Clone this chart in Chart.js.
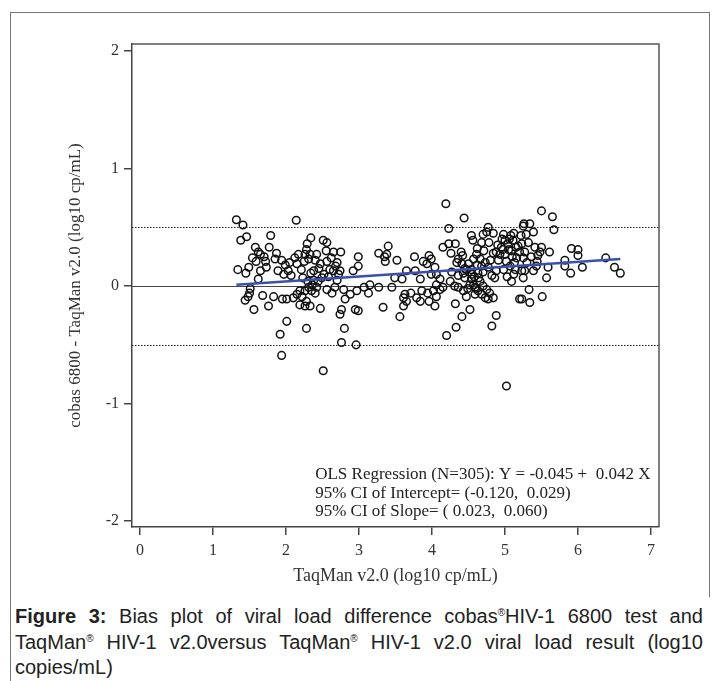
<!DOCTYPE html>
<html>
<head>
<meta charset="utf-8">
<script src="https://cdn.jsdelivr.net/npm/chart.js@4.4.1/dist/chart.umd.min.js"></script>
<style>
  html, body { margin: 0; padding: 0; background: #fff; }
  body { width: 718px; height: 681px; position: relative; overflow: hidden; }
  #frame { position: absolute; left: 10px; top: 12px; width: 698px; height: 584px;
           border: 1.5px solid #777; border-bottom: none; }
  #leftline { position: absolute; left: 10px; top: 590px; height: 100px; border-left: 1.5px solid #777; }
  #chart { position: absolute; left: 0; top: 0; }
  #caption { position: absolute; left: 15px; top: 604px; width: 688px;
             font-family: "Liberation Sans Narrow", "Arial Narrow", "Liberation Sans", Arial, sans-serif;
             font-size: 20px; line-height: 25.5px; color: #222; }
  #caption div { text-align: justify; text-align-last: justify; white-space: nowrap; }
  #caption div.last { text-align-last: left; }
  #caption sup { font-size: 10px; vertical-align: 7px; line-height: 0; }
</style>
</head>
<body>
<div id="frame"></div>
<div id="leftline"></div>
<canvas id="chart" width="718" height="598"></canvas>
<div id="caption">
  <div><b>Figure 3:</b> Bias plot of viral load difference cobas<sup>®</sup>HIV-1 6800 test and</div>
  <div>TaqMan<sup>®</sup> HIV-1 v2.0versus TaqMan<sup>®</sup> HIV-1 v2.0 viral load result (log10</div>
  <div class="last">copies/mL)</div>
</div>
<script>
// ── datos ──
// TaqMan v2.0 (log10 cp/mL)
const taqman = [
  1.32, 1.41, 2.14, 1.79, 1.38, 1.46, 1.58, 1.62, 1.77, 1.54, 1.65, 1.72, 1.59, 1.34, 1.49, 1.45,
  1.65, 1.73, 1.87, 1.85, 1.94, 1.89, 1.99, 2.03, 2.07, 1.97, 2.17, 2.26, 2.33, 2.15, 2.25, 2.31,
  2.34, 2.29, 2.47, 2.34, 2.38, 2.51, 1.62, 1.51, 1.50, 1.48, 1.44, 1.68, 1.83, 1.95, 2.01, 2.10,
  2.15, 2.19, 2.22, 2.26, 2.31, 2.35, 2.40, 2.28, 2.19, 2.26, 2.33, 1.76, 1.56, 2.47, 2.01, 2.28,
  1.92, 1.94, 2.51, 2.23, 2.30, 2.38, 2.44, 2.36, 2.49, 2.42,
  2.56, 2.55, 2.65, 2.75, 2.56, 2.70, 2.60, 2.65, 2.74, 2.72, 2.99, 2.99, 2.92, 3.27, 3.35, 3.40,
  3.52, 3.36, 3.76, 3.88, 3.65, 3.77, 3.84, 3.49, 3.59, 2.56, 2.67, 2.79, 2.88, 2.81, 2.97, 3.07,
  3.15, 3.13, 3.27, 3.45, 2.76, 2.74, 2.95, 2.99, 3.33, 3.63, 3.61, 3.65, 3.61, 3.56, 3.71, 3.79,
  3.84, 2.80, 2.76, 2.96, 3.86, 2.62, 2.68, 2.58, 2.70, 2.63, 3.38,
  4.19, 4.44, 4.23, 4.77, 5.25, 4.15, 4.23, 4.32, 4.26, 4.54, 4.56, 4.70, 4.75, 4.84, 4.68, 4.78,
  4.98, 5.08, 5.00, 5.04, 5.11, 5.18, 4.95, 4.88, 4.84, 4.93, 5.09, 5.20, 5.16, 5.02, 5.07, 5.14,
  5.23, 4.98, 5.09, 5.20, 3.96, 3.99, 3.93, 4.04, 4.06, 3.99, 4.40, 4.42, 4.36, 4.34, 4.41, 4.50,
  4.61, 4.57, 4.66, 4.73, 4.68, 4.77, 4.54, 4.47, 4.43, 4.63, 4.82, 4.86, 4.36, 4.45, 4.54, 4.66,
  4.52, 4.57, 4.59, 4.70, 4.75, 4.79, 4.73, 4.77, 4.84, 4.63, 4.59, 4.43, 4.47, 4.36, 4.31, 4.25,
  4.15, 4.06, 4.11, 4.02, 3.94, 4.06, 3.96, 4.04, 4.32, 4.52, 4.41, 4.88, 4.82, 4.33, 4.20, 5.02,
  4.90, 4.96, 5.05, 5.13, 4.62, 4.80, 4.45, 5.00, 4.91, 5.10, 4.71, 4.58, 4.49, 4.68, 5.12, 4.27,
  4.11, 4.88, 5.03, 4.62,
  5.50, 5.65, 5.26, 5.34, 5.39, 5.67, 5.23, 5.32, 5.41, 5.50, 5.48, 5.61, 5.27, 5.91, 6.00, 6.00,
  5.82, 6.38, 5.82, 6.06, 5.90, 6.50, 6.58, 5.59, 5.43, 5.39, 5.27, 5.25, 5.57, 5.33, 5.51, 5.23,
  5.34, 5.45, 5.25, 5.30, 5.36, 5.44, 5.29, 5.22,
  1.70, 2.05, 2.12, 2.21, 2.40, 2.42, 2.45, 2.52, 2.28, 4.55, 4.64, 4.70, 4.60, 5.06, 5.15, 4.97, 5.12
];
// cobas 6800 - TaqMan v2.0 (log10 cp/mL)
const diff = [
  0.565, 0.52, 0.56, 0.43, 0.39, 0.42, 0.33, 0.29, 0.33, 0.24, 0.27, 0.21, 0.21, 0.14, 0.16, 0.11,
  0.13, 0.16, 0.28, 0.23, 0.22, 0.13, 0.18, 0.13, 0.09, 0.10, 0.27, 0.27, 0.27, 0.19, 0.21, 0.23,
  0.41, 0.36, 0.19, 0.11, 0.13, 0.39, 0.06, -0.02, -0.06, -0.09, -0.12, -0.08, -0.09, -0.11, -0.11, -0.10,
  -0.07, -0.04, -0.09, -0.04, -0.01, -0.04, -0.06, -0.13, -0.16, -0.17, -0.17, -0.17, -0.20, -0.19, -0.30, -0.36,
  -0.41, -0.59, -0.72, 0.07, 0.04, 0.05, 0.04, 0.01, 0.07, -0.01,
  0.37, 0.30, 0.29, 0.29, 0.21, 0.20, 0.14, 0.13, 0.13, 0.10, 0.25, 0.17, 0.13, 0.28, 0.25, 0.34,
  0.22, 0.21, 0.25, 0.21, 0.13, 0.13, 0.06, 0.07, 0.06, -0.03, -0.01, -0.03, -0.07, -0.11, -0.04, -0.01,
  0.01, -0.06, -0.01, -0.01, -0.20, -0.24, -0.20, -0.21, -0.18, -0.07, -0.10, -0.13, -0.17, -0.26, -0.06, -0.10,
  -0.13, -0.36, -0.48, -0.50, -0.04, 0.24, 0.17, 0.08, 0.05, -0.06, 0.27,
  0.70, 0.58, 0.49, 0.50, 0.51, 0.33, 0.36, 0.36, 0.28, 0.43, 0.39, 0.44, 0.46, 0.45, 0.37, 0.37,
  0.44, 0.43, 0.39, 0.36, 0.39, 0.34, 0.33, 0.29, 0.28, 0.27, 0.30, 0.29, 0.24, 0.21, 0.17, 0.14,
  0.13, 0.14, 0.04, -0.11, 0.26, 0.23, 0.19, 0.16, 0.10, 0.10, 0.29, 0.26, 0.23, 0.20, 0.19, 0.19,
  0.27, 0.23, 0.23, 0.20, 0.17, 0.16, 0.14, 0.14, 0.11, 0.11, 0.09, 0.07, 0.09, 0.07, 0.06, 0.04,
  0.01, 0.01, -0.01, 0.00, -0.03, -0.06, -0.10, -0.11, -0.10, -0.04, -0.07, -0.04, -0.09, -0.01, 0.00, 0.04,
  -0.01, 0.01, -0.03, -0.04, -0.06, -0.09, -0.13, -0.17, -0.15, -0.20, -0.26, -0.25, -0.34, -0.35, -0.42, -0.85,
  0.35, 0.40, 0.31, 0.20, 0.18, 0.22, 0.15, 0.27, 0.22, 0.25, 0.30, 0.08, -0.02, -0.07, 0.10, 0.12,
  0.06, 0.13, 0.08, 0.32,
  0.64, 0.59, 0.53, 0.53, 0.46, 0.48, 0.36, 0.37, 0.33, 0.33, 0.29, 0.29, 0.29, 0.32, 0.31, 0.26,
  0.22, 0.24, 0.17, 0.16, 0.11, 0.16, 0.11, 0.16, 0.17, 0.13, 0.13, 0.07, 0.07, -0.03, -0.09, -0.11,
  -0.14, 0.26, 0.24, 0.20, 0.25, 0.21, 0.44, 0.43,
  0.25, 0.20, 0.24, 0.14, 0.22, 0.27, 0.15, 0.10, 0.31, 0.10, 0.07, 0.12, -0.02, 0.40, 0.33, 0.31, 0.45
];

// ejes
const xTicks = [0, 1, 2, 3, 4, 5, 6, 7];
const yTicks = [-2, -1, 0, 1, 2];
const limitLines = [0.5, -0.5];   // punteadas
const zeroLine = [0];             // línea sólida

// regresión OLS
const intercept = -0.045;
const slope = 0.042;
const statLines = [
  'OLS Regression (N=305): Y = -0.045 +  0.042 X',
  '95% CI of Intercept= (-0.120,  0.029)',
  '95% CI of Slope= ( 0.023,  0.060)'
];

const serif = '"Liberation Serif", "Times New Roman", serif';
const xLo = Math.min(...taqman);
const xHi = Math.max(...taqman);

const puntos = taqman.map((x, i) => ({ x, y: diff[i] }));
const recta = [xLo, xHi].map(x => ({ x, y: intercept + slope * x }));

// líneas de referencia, marco superior/derecho y texto de la regresión
const decor = {
  id: 'decor',
  beforeDatasetsDraw(chart) {
    const { ctx, chartArea: a, scales: { y } } = chart;
    ctx.save();
    ctx.lineWidth = 1;
    ctx.strokeStyle = '#444';
    zeroLine.forEach(v => {
      const py = Math.round(y.getPixelForValue(v)) + 0.5;
      ctx.beginPath(); ctx.moveTo(a.left, py); ctx.lineTo(a.right, py); ctx.stroke();
    });
    ctx.setLineDash([1.5, 1.5]);
    ctx.strokeStyle = '#222';
    limitLines.forEach(v => {
      const py = Math.round(y.getPixelForValue(v)) + 0.5;
      ctx.beginPath(); ctx.moveTo(a.left, py); ctx.lineTo(a.right, py); ctx.stroke();
    });
    ctx.restore();
  },
  afterDraw(chart) {
    const { ctx, chartArea: a, scales: { x } } = chart;
    ctx.save();
    ctx.strokeStyle = '#555';
    ctx.lineWidth = 1.5;
    ctx.beginPath();
    ctx.moveTo(a.left, a.top); ctx.lineTo(a.right, a.top); ctx.lineTo(a.right, a.bottom);
    ctx.stroke();

    ctx.fillStyle = '#222';
    ctx.font = '17px ' + serif;
    ctx.textAlign = 'left';
    ctx.textBaseline = 'middle';
    const tx = x.getPixelForValue(2.4);
    statLines.forEach((t, i) => ctx.fillText(t, tx, a.bottom - 52 + i * 18.3));
    ctx.restore();
  }
};

new Chart(document.getElementById('chart'), {
  type: 'scatter',
  data: {
    datasets: [
      {
        type: 'line',
        data: recta,
        borderColor: '#3a4fae',
        borderWidth: 2.5,
        pointRadius: 0,
        fill: false,
        order: 0
      },
      {
        data: puntos,
        pointStyle: 'circle',
        pointRadius: 3.8,
        pointBorderWidth: 1.5,
        borderColor: '#111',
        backgroundColor: 'rgba(0,0,0,0)',
        order: 1
      }
    ]
  },
  options: {
    responsive: false,
    devicePixelRatio: 1,
    animation: false,
    events: [],
    layout: { padding: { left: 14, right: 59, top: 44, bottom: 0 } },
    plugins: { legend: { display: false }, tooltip: { enabled: false } },
    scales: {
      x: {
        type: 'linear',
        min: -0.11,
        max: 7.11,
        afterBuildTicks: s => { s.ticks = xTicks.map(v => ({ value: v })); },
        afterFit: s => { s.height = 71; },
        ticks: { font: { family: serif, size: 16 }, color: '#333', padding: 6, maxRotation: 0, autoSkip: false },
        grid: { display: true, drawOnChartArea: false, drawTicks: true, tickLength: 8, color: '#444', lineWidth: 1.5 },
        border: { display: true, color: '#444', width: 1.5 },
        title: {
          display: true, text: 'TaqMan v2.0 (log10 cp/mL)',
          font: { family: serif, size: 18 }, color: '#333',
          padding: { top: 0, bottom: 11 }
        }
      },
      y: {
        type: 'linear',
        min: -2.05,
        max: 2.06,
        afterBuildTicks: s => { s.ticks = yTicks.map(v => ({ value: v })); },
        afterFit: s => { s.width = 118; },
        ticks: { font: { family: serif, size: 16 }, color: '#333', padding: 5, autoSkip: false },
        grid: { display: true, drawOnChartArea: false, drawTicks: true, tickLength: 8, color: '#444', lineWidth: 1.5 },
        border: { display: true, color: '#444', width: 1.5 },
        title: {
          display: true, text: 'cobas 6800 - TaqMan v2.0 (log10 cp/mL)',
          font: { family: serif, size: 17 }, color: '#333',
          padding: { top: 51, bottom: 0 }
        }
      }
    }
  },
  plugins: [decor]
});
</script>
</body>
</html>
